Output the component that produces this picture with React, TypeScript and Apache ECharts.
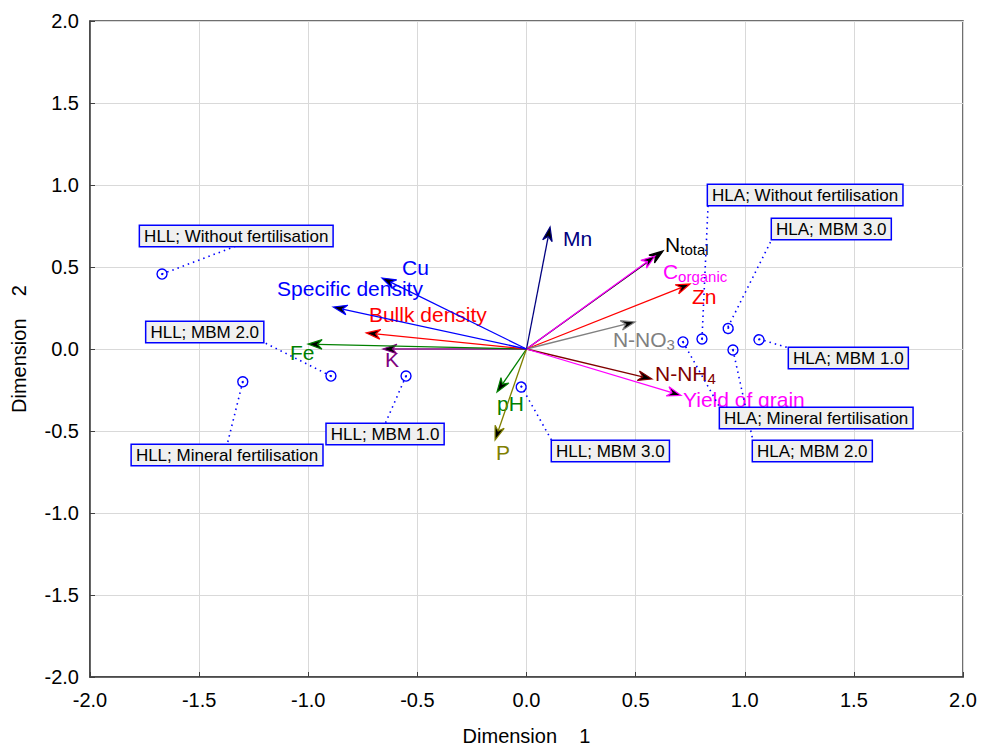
import React, { useEffect, useRef } from "react";
import * as echarts from "echarts";

// ---- Data: object points (cases) ----
const pointNames = [
  "HLL; Without fertilisation",
  "HLL; MBM 1.0",
  "HLL; MBM 2.0",
  "HLL; MBM 3.0",
  "HLL; Mineral fertilisation",
  "HLA; Without fertilisation",
  "HLA; MBM 1.0",
  "HLA; MBM 2.0",
  "HLA; MBM 3.0",
  "HLA; Mineral fertilisation",
];
const pointX = [-1.67, -0.552, -0.896, -0.025, -1.3, 0.804, 1.065, 0.946, 0.923, 0.717];
const pointY = [0.457, -0.165, -0.165, -0.225, -0.2, 0.061, 0.061, -0.006, 0.134, 0.043];

// ---- Data: variable vectors ----
const varNames = [
  "Mn",
  "{m|N}{s|total}",
  "{m|C}{s|organic}",
  "Zn",
  "{m|N-NO}{s|3}",
  "{m|N-NH}{s|4}",
  "Yield of grain",
  "pH",
  "P",
  "K",
  "Fe",
  "Bullk density",
  "Specific density",
  "Cu",
];
const varX = [0.108, 0.626, 0.589, 0.749, 0.497, 0.575, 0.708, -0.135, -0.144, -0.658, -1.001, -0.734, -0.886, -0.662];
const varY = [0.744, 0.598, 0.567, 0.396, 0.165, -0.183, -0.283, -0.262, -0.555, 0.0, 0.03, 0.098, 0.256, 0.433];
const varColors = [
  "#000080", "#000000", "#ff00ff", "#ff0000", "#808080", "#800000", "#ff00ff",
  "#008000", "#808000", "#800080", "#008000", "#ff0000", "#0000ff", "#0000ff",
];

// ---- Axis ticks ----
const axisMin = -2;
const axisMax = 2;
const axisStep = 0.5;

// ---- Layout (label anchors in data units) ----
const varLabelX = [0.167, 0.635, 0.625, 0.758, 0.396, 0.589, 0.717, -0.135, -0.14, -0.648, -1.084, -0.722, -1.143, -0.57];
const varLabelY = [0.671, 0.64, 0.47, 0.318, 0.055, -0.152, -0.305, -0.335, -0.634, -0.067, -0.024, 0.213, 0.366, 0.5];

const pointLabelX = [-1.33, -0.648, -1.207, 0.117, -1.372, 0.832, 1.203, 1.038, 1.125, 0.887];
const pointLabelY = [0.628, -0.457, 0.043, -0.561, -0.585, 0.878, 0.006, -0.561, 0.671, -0.36];
const pointLabelAlign = ["center", "center", "right", "left", "center", "left", "left", "left", "left", "left"];
const pointLabelVAlign = ["bottom", "top", "bottom", "top", "top", "bottom", "top", "top", "bottom", "top"];

const FONT = "'Liberation Sans', Arial, Helvetica, sans-serif";

export default function App() {
  const ref = useRef<HTMLDivElement>(null);

  useEffect(() => {
    document.body.style.margin = "0";
    if (!ref.current) return;
    const chart = echarts.init(ref.current, undefined, { renderer: "svg" });

    const arrowData = varX.map((x, i) => [x, varY[i]]);
    const pointData = pointX.map((x, i) => [x, pointY[i]]);

    const axisCommon = {
      type: "value" as const,
      min: axisMin,
      max: axisMax,
      interval: axisStep,
      nameLocation: "middle" as const,
      nameTextStyle: { fontSize: 20, color: "#000", fontFamily: FONT },
      axisLine: { onZero: false, lineStyle: { color: "#404040", width: 1.5 } },
      axisTick: { inside: true, length: 5, lineStyle: { color: "#404040" } },
      axisLabel: {
        fontSize: 20,
        color: "#000",
        fontFamily: FONT,
        formatter: (v: number) => v.toFixed(1),
      },
      splitLine: { show: true, lineStyle: { color: "#d9d9d9", width: 1 } },
    };

    const option: any = {
      animation: false,
      textStyle: { fontFamily: FONT },
      grid: {
        left: 90,
        right: 18,
        top: 21,
        bottom: 70,
        outerBoundsMode: "none",
        containLabel: false,
        show: true,
        borderColor: "#404040",
        borderWidth: 1.5,
        backgroundColor: "transparent",
      },
      xAxis: {
        ...axisCommon,
        name: "Dimension\u00a0\u00a0\u00a0\u00a01",
        nameGap: 49,
        axisLabel: { ...axisCommon.axisLabel, margin: 13 },
      },
      yAxis: {
        ...axisCommon,
        name: "Dimension\u00a0\u00a0\u00a0\u00a02",
        nameGap: 61,
        nameRotate: 90,
        axisLabel: { ...axisCommon.axisLabel, margin: 11 },
      },
      series: [
        {
          type: "custom",
          name: "variables",
          silent: true,
          clip: false,
          data: arrowData,
          renderItem: (params: any, api: any) => {
            const i = params.dataIndex;
            const color = varColors[i];
            const o = api.coord([0, 0]);
            const t = api.coord([api.value(0), api.value(1)]);
            const dx = t[0] - o[0];
            const dy = t[1] - o[1];
            const len = Math.sqrt(dx * dx + dy * dy) || 1;
            const ux = dx / len;
            const uy = dy / len;
            const nx = -uy;
            const ny = ux;
            const L = 14;
            const W = 4.8;
            const N = 9.5;
            const notch = [t[0] - N * ux, t[1] - N * uy];
            const bl = [t[0] - L * ux + W * nx, t[1] - L * uy + W * ny];
            const br = [t[0] - L * ux - W * nx, t[1] - L * uy - W * ny];
            const lp = api.coord([varLabelX[i], varLabelY[i]]);
            return {
              type: "group",
              children: [
                {
                  type: "line",
                  shape: { x1: o[0], y1: o[1], x2: notch[0], y2: notch[1] },
                  style: { stroke: color, lineWidth: 1.3 },
                },
                {
                  type: "polygon",
                  shape: { points: [t, bl, notch, br] },
                  style: { fill: "#000", stroke: color, lineWidth: 1.2 },
                },
                {
                  type: "text",
                  x: lp[0],
                  y: lp[1],
                  style: {
                    text: varNames[i],
                    fill: color,
                    fontSize: 21,
                    fontFamily: FONT,
                    align: "left",
                    verticalAlign: "middle",
                    rich: {
                      m: { fontSize: 21, fontFamily: FONT, fill: color, lineHeight: 25 },
                      s: { fontSize: 15, fontFamily: FONT, fill: color, verticalAlign: "bottom" },
                    },
                  },
                },
              ],
            };
          },
        },
        {
          type: "custom",
          name: "cases",
          silent: true,
          clip: false,
          data: pointData,
          renderItem: (params: any, api: any) => {
            const i = params.dataIndex;
            const p = api.coord([api.value(0), api.value(1)]);
            const a = api.coord([pointLabelX[i], pointLabelY[i]]);
            return {
              type: "group",
              children: [
                {
                  type: "line",
                  shape: { x1: p[0], y1: p[1], x2: a[0], y2: a[1] },
                  style: { stroke: "#0000ff", lineWidth: 1.6, lineDash: [1.5, 4] },
                },
                {
                  type: "circle",
                  shape: { cx: p[0], cy: p[1], r: 5 },
                  style: { fill: "none", stroke: "#0000ff", lineWidth: 1.4 },
                },
                {
                  type: "circle",
                  shape: { cx: p[0], cy: p[1], r: 1 },
                  style: { fill: "#0000ff" },
                },
                {
                  type: "text",
                  x: a[0],
                  y: a[1],
                  style: {
                    text: pointNames[i],
                    fill: "#000",
                    fontSize: 17,
                    fontFamily: FONT,
                    align: pointLabelAlign[i],
                    verticalAlign: pointLabelVAlign[i],
                    backgroundColor: "#f0f0f0",
                    borderColor: "#0000ff",
                    borderWidth: 1.5,
                    padding: [1, 4, 0, 4],
                    lineHeight: 19,
                  },
                },
              ],
            };
          },
        },
      ],
    };

    chart.setOption(option);
    return () => chart.dispose();
  }, []);

  return <div ref={ref} style={{ width: 981, height: 747 }} />;
}
